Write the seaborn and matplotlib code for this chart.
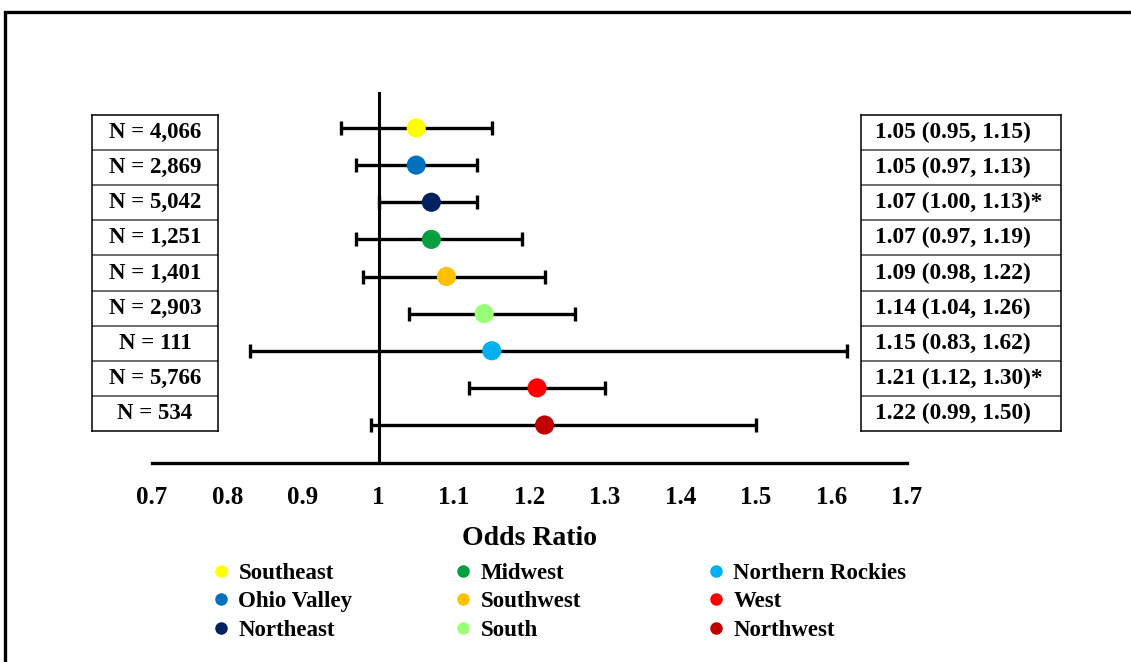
import numpy as np
import pandas as pd
import matplotlib
matplotlib.use("Agg")
import matplotlib.pyplot as plt
from matplotlib.lines import Line2D
from matplotlib.patches import Rectangle
import seaborn as sns

# ---- data -------------------------------------------------------------
regions = ["Southeast", "Ohio Valley", "Northeast", "Midwest", "Southwest",
           "South", "Northern Rockies", "West", "Northwest"]
sample_n = [4066, 2869, 5042, 1251, 1401, 2903, 111, 5766, 534]
odds_ratio = [1.05, 1.05, 1.07, 1.07, 1.09, 1.14, 1.15, 1.21, 1.22]
ci_low = [0.95, 0.97, 1.00, 0.97, 0.98, 1.04, 0.83, 1.12, 0.99]
ci_high = [1.15, 1.13, 1.13, 1.19, 1.22, 1.26, 1.62, 1.30, 1.50]
significant = [False, False, True, False, False, False, False, True, False]
region_colors = ["#FFFF00", "#0070C0", "#002060", "#00A040", "#FFC000",
                 "#99FF77", "#00B0F0", "#FF0000", "#C00000"]
x_ticks = [0.7, 0.8, 0.9, 1.0, 1.1, 1.2, 1.3, 1.4, 1.5, 1.6, 1.7]
x_tick_labels = ["0.7", "0.8", "0.9", "1", "1.1", "1.2", "1.3", "1.4",
                 "1.5", "1.6", "1.7"]

df = pd.DataFrame({"region": regions, "n": sample_n, "or": odds_ratio,
                   "lo": ci_low, "hi": ci_high, "sig": significant})
df["row"] = np.arange(len(df))
palette = dict(zip(regions, region_colors))

# ---- style ------------------------------------------------------------
sns.set_theme(style="white")
plt.rcParams["font.family"] = ["Liberation Serif", "DejaVu Serif"]
plt.rcParams["font.weight"] = "bold"
plt.rcParams["text.color"] = "black"

W, H = 1131, 662
fig = plt.figure(figsize=(W / 100, H / 100), dpi=100)


def px_axes(x0, y0, x1, y1):
    """Axes placed by pixel box (top-left origin)."""
    return fig.add_axes([x0 / W, 1 - y1 / H, (x1 - x0) / W, (y1 - y0) / H])


# outer frame
fig.patches.append(Rectangle((4.5 / W, -0.5), 1.5, 1.5 - 11.5 / H,
                             transform=fig.transFigure, fill=False,
                             edgecolor="black", linewidth=2.4, zorder=0))

# ---- forest plot ------------------------------------------------------
ax = px_axes(152, 92, 907, 463)
spacing = (425 - 128) / 8
ax.set_ylim(8 + (463 - 425) / spacing, -(128 - 92) / spacing)
ax.set_xlim(x_ticks[0], x_ticks[-1])

ax.errorbar(df["or"], df["row"], xerr=[df["or"] - df["lo"], df["hi"] - df["or"]],
            fmt="none", ecolor="black", elinewidth=2.4, capsize=5,
            capthick=2.4, zorder=2)
sns.scatterplot(data=df, x="or", y="row", hue="region", palette=palette,
                s=190, edgecolor="none", legend=False, ax=ax, zorder=3)
ax.axvline(1.0, color="black", linewidth=2.2, zorder=1)

for side in ["top", "right", "left"]:
    ax.spines[side].set_visible(False)
ax.spines["bottom"].set_color("black")
ax.spines["bottom"].set_linewidth(2.4)
ax.set_yticks([])
ax.set_xticks(x_ticks)
ax.set_xticklabels(x_tick_labels, fontsize=18, fontweight="bold")
ax.tick_params(axis="x", length=0, pad=16.5, colors="black")
ax.set_xlabel("Odds Ratio", fontsize=20, fontweight="bold", labelpad=12,
              color="black")
ax.set_ylabel("")
ax.patch.set_alpha(0)


# ---- side tables ------------------------------------------------------
def table_axes(x0, x1, texts, tx, ha, size):
    t = px_axes(x0, 115, x1, 431)
    t.set_xlim(0, 1)
    t.set_ylim(len(texts), 0)
    t.set_xticks([])
    t.set_yticks([])
    for s in t.spines.values():
        s.set_color("black")
        s.set_linewidth(1.1)
    for k in range(1, len(texts)):
        t.axhline(k, color="#444444", linewidth=1.1)
    for k, s in enumerate(texts):
        t.text(tx, k + 0.5, s, ha=ha, va="center", fontsize=size,
               fontweight="bold", color="black")
    return t


n_texts = [f"N = {n:,}" for n in df["n"]]
or_texts = [f"{o:.2f} ({l:.2f}, {h:.2f})" + ("*" if s else "")
            for o, l, h, s in zip(df["or"], df["lo"], df["hi"], df["sig"])]
table_axes(92, 218, n_texts, 0.5, "center", 16.5)
table_axes(861, 1061, or_texts, 14 / 200, "left", 16.8)

# ---- legend (three columns) -------------------------------------------
handles = [Line2D([], [], marker="o", linestyle="none", markersize=9,
                  markerfacecolor=c, markeredgecolor="none") for c in region_colors]
col_x = [212, 454, 707]
for c in range(3):
    idx = range(3 * c, 3 * c + 3)
    fig.legend([handles[i] for i in idx], [regions[i] for i in idx],
               loc="upper left", bbox_to_anchor=(col_x[c] / W, 1 - 563 / H),
               frameon=False, prop={"weight": "bold", "size": 16.5},
               labelcolor="black",
               handlelength=0.8, handletextpad=0.35, labelspacing=0.32,
               borderpad=0, borderaxespad=0)

fig.savefig("out.png", dpi=100)
